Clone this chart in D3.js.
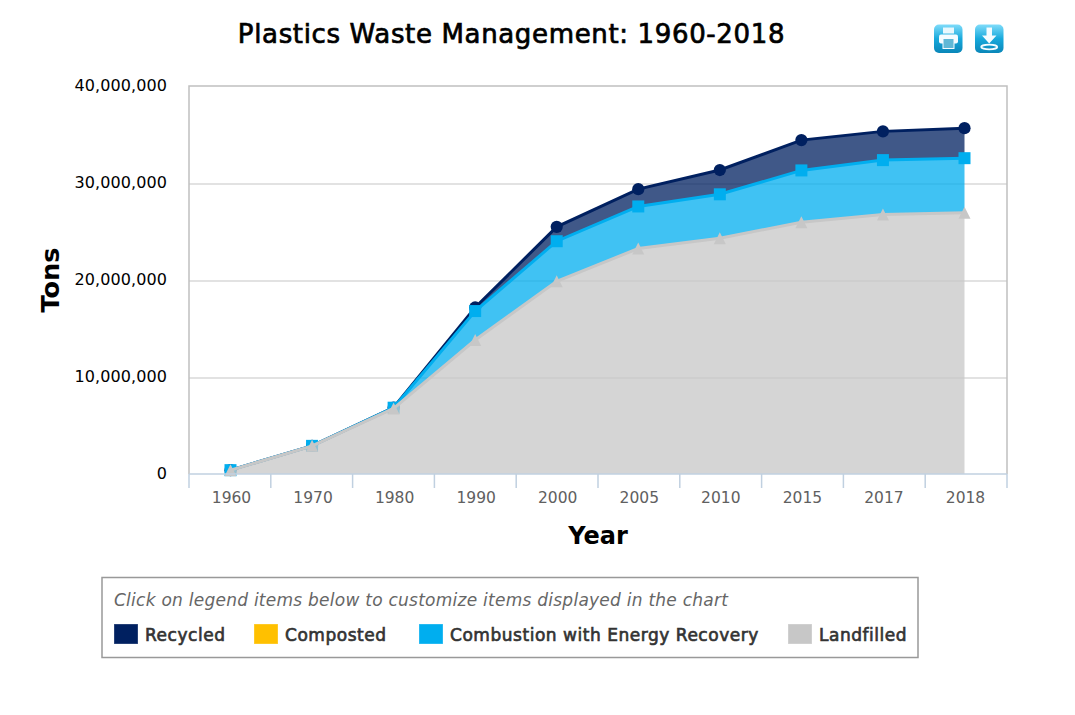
<!DOCTYPE html>
<html><head><meta charset="utf-8">
<script src="https://cdn.jsdelivr.net/npm/d3@7"></script>
<style>html,body{margin:0;padding:0;background:#fff}svg{display:block}text{font-family:"DejaVu Sans",sans-serif}</style>
</head><body><div id="c"></div>
<script>
const years = ["1960","1970","1980","1990","2000","2005","2010","2015","2017","2018"];
const landfilled = [500000,3000000,6850000,13900000,19950000,23320000,24370000,26030000,26830000,27000000];
const combustion = [0,0,80000,2980000,4120000,4330000,4530000,5330000,5590000,5620000];
const composted = [0,0,0,0,0,0,0,0,0,0];
const recycled = [0,0,20000,370000,1480000,1780000,2500000,3120000,2960000,3090000];
const yTicks = [0,10000000,20000000,30000000,40000000];
const seriesNames = ["Landfilled","Combustion with Energy Recovery","Composted","Recycled"];
const seriesColors = {"Landfilled":"#C7C7C7","Combustion with Energy Recovery":"#00AEEF","Composted":"#FFC000","Recycled":"#002060"};
const titleText = "Plastics Waste Management: 1960-2018";
const legendNote = "Click on legend items below to customize items displayed in the chart";
const legendOrder = ["Recycled","Composted","Combustion with Energy Recovery","Landfilled"];
const legendX = [114,254,419,788];

const W=1075,H=715,L=189,R=1007,T=86,B=474;
const svg=d3.select("#c").append("svg").attr("width",W).attr("height",H);
const xBand=d3.scaleBand().domain(years).range([L,R]);
const x=d3.scalePoint().domain(years).range([230.5,964.5]);
const y=d3.scaleLinear().domain([0,40000000]).range([475,86.5]);
const yc=v=>Math.min(y(v),B);

svg.append("text").attr("x",511.5).attr("y",43).attr("text-anchor","middle").attr("font-size",26).attr("fill","#000").attr("stroke","#000").attr("stroke-width",0.7).style("letter-spacing","0.65px").text(titleText);

// plot frame + grid
const grid=svg.append("g");
grid.selectAll("line").data(yTicks.slice(1,4)).join("line").attr("x1",L).attr("x2",R).attr("y1",d=>Math.round(y(d))).attr("y2",d=>Math.round(y(d))).attr("stroke","#d8d8d8").attr("stroke-width",1.5);
svg.append("path").attr("d",`M${L},${B}V${T}H${R}V${B}`).attr("fill","none").attr("stroke","#c0c0c0").attr("stroke-width",1.5);

// y axis labels
const yAxis=d3.axisLeft(y).tickValues(yTicks).tickFormat(d3.format(",")).tickSize(0).tickPadding(0);
const gy=svg.append("g").attr("transform",`translate(${L-22},0.5)`).call(yAxis);
gy.select(".domain").remove();
gy.selectAll("text").attr("font-size",16).attr("fill","#000").attr("font-family",'"DejaVu Sans",sans-serif').attr("dy","0.2em").style("letter-spacing","0.1px");

// stacks
const values={"Landfilled":landfilled,"Combustion with Energy Recovery":combustion,"Composted":composted,"Recycled":recycled};
const rows=years.map((yr,i)=>{const o={year:yr};seriesNames.forEach(n=>o[n]=values[n][i]);return o;});
const stacked=d3.stack().keys(seriesNames)(rows);
const area=d3.area().x(d=>x(d.data.year)).y0(d=>yc(d[0])).y1(d=>y(d[1]));
const line=d3.line().x(d=>x(d.data.year)).y(d=>y(d[1]));
const boxTriangle={draw(ctx,size){const r=Math.sqrt(size)/2;ctx.moveTo(0,-r);ctx.lineTo(r,r);ctx.lineTo(-r,r);ctx.closePath();}};
const drawOrder=[3,2,1,0];
drawOrder.forEach(i=>{
  const s=stacked[i],c=seriesColors[s.key];
  const g=svg.append("g");
  if(s.key!=="Composted"){
    g.append("path").attr("d",area(s)).attr("fill",c).attr("fill-opacity",0.75);
    g.append("path").attr("d",line(s)).attr("fill","none").attr("stroke",c).attr("stroke-width",3);
  }
  let sym=null;
  if(s.key==="Recycled") sym=d3.symbolCircle;
  if(s.key==="Combustion with Energy Recovery") sym=d3.symbolSquare;
  if(s.key==="Landfilled") sym=boxTriangle;
  if(sym){
    const size=s.key==="Recycled"?117:144;
    g.selectAll("path.m").data(s).join("path").attr("class","m")
      .attr("d",d3.symbol().type(sym).size(size))
      .attr("transform",d=>`translate(${x(d.data.year)},${y(d[1])})`)
      .attr("fill",c);
  }
});

// x axis
const xAxis=d3.axisBottom(x).tickSize(0).tickPadding(0);
const gx=svg.append("g").attr("transform",`translate(0.5,${B})`).call(xAxis);
gx.select(".domain").remove();
gx.selectAll("text").attr("font-size",15.5).attr("fill","#606060").attr("font-family",'"DejaVu Sans",sans-serif').attr("y",29).attr("dy",0);
svg.append("line").attr("x1",L).attr("x2",R).attr("y1",B).attr("y2",B).attr("stroke","#c0d0e0").attr("stroke-width",1.5);
const bounds=years.map(d=>xBand(d)).concat([R]);
svg.append("g").selectAll("line").data(bounds).join("line").attr("x1",d=>d).attr("x2",d=>d).attr("y1",B).attr("y2",B+14).attr("stroke","#c0d0e0").attr("stroke-width",1.5);

svg.append("text").attr("x",598).attr("y",544).attr("text-anchor","middle").attr("font-size",24).attr("font-weight",700).attr("fill","#000").text("Year");
svg.append("text").attr("transform","translate(59,280) rotate(-90)").attr("text-anchor","middle").attr("font-size",25.5).attr("font-weight",700).attr("fill","#000").text("Tons");

// legend
svg.append("rect").attr("x",102).attr("y",577.5).attr("width",816).attr("height",80).attr("fill","#fff").attr("stroke","#999").attr("stroke-width",1.5);
svg.append("text").attr("x",114).attr("y",606).attr("font-size",17).attr("font-style","italic").attr("fill","#666").style("letter-spacing","0.25px").text(legendNote);
const lg=svg.append("g").selectAll("g").data(legendOrder).join("g").attr("transform",(d,i)=>`translate(${legendX[i]},624)`);
lg.append("rect").attr("x",0.5).attr("y",0.5).attr("width",23).attr("height",19).attr("fill",d=>seriesColors[d]).attr("stroke",d=>seriesColors[d]).attr("stroke-opacity",0.7).attr("stroke-width",1);
lg.append("text").attr("x",31).attr("y",16.5).attr("font-size",17).attr("fill","#333").attr("stroke","#333").attr("stroke-width",0.65).style("letter-spacing","0.53px").text(d=>d);

// export icons
const defs=svg.append("defs");
const gr=defs.append("linearGradient").attr("id","ic").attr("x1",0).attr("x2",0).attr("y1",0).attr("y2",1);
gr.append("stop").attr("offset","0").attr("stop-color","#7fdcfa");
gr.append("stop").attr("offset","0.5").attr("stop-color","#17a9dc");
gr.append("stop").attr("offset","1").attr("stop-color","#0a86b8");
const p=svg.append("g").attr("transform","translate(934,24.5)");
p.append("rect").attr("width",28.5).attr("height",28.5).attr("rx",5).attr("fill","url(#ic)");
p.append("rect").attr("x",9).attr("y",3).attr("width",11).attr("height",6).attr("fill","#e8f8fd");
p.append("rect").attr("x",5).attr("y",10).attr("width",19).attr("height",9).attr("rx",2).attr("fill","#f4fcff");
p.append("rect").attr("x",9).attr("y",14).attr("width",11).attr("height",10).attr("fill","#5fb8d6").attr("stroke","#f4fcff").attr("stroke-width",1);
const q=svg.append("g").attr("transform","translate(975,24.5)");
q.append("rect").attr("width",28.5).attr("height",28.5).attr("rx",5).attr("fill","url(#ic)");
q.append("path").attr("d","M11.5,3H17V11H21.5L14.2,19L7,11H11.5Z").attr("fill","#f4fcff");
q.append("ellipse").attr("cx",14.2).attr("cy",22.5).attr("rx",8).attr("ry",2.4).attr("fill","none").attr("stroke","#f4fcff").attr("stroke-width",1.8);
</script></body></html>
